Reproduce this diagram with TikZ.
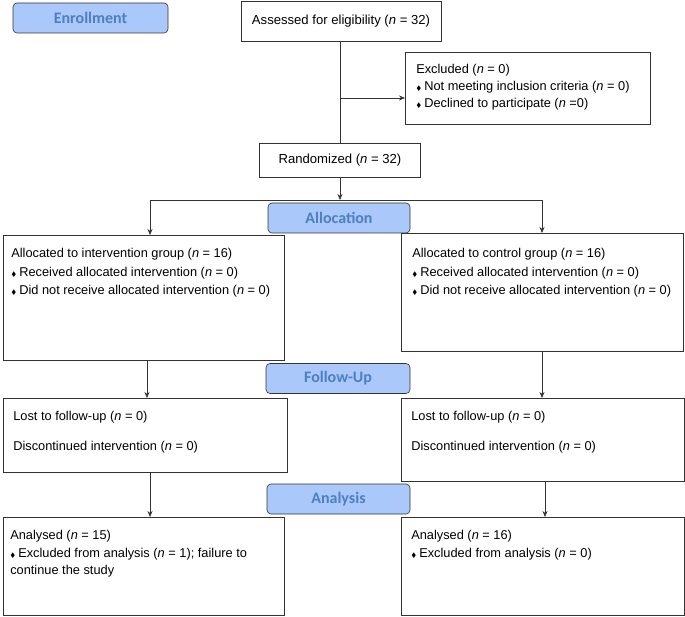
\documentclass[tikz,border=0pt]{standalone}
\usepackage{amssymb}
\usepackage{fontspec}
\setmainfont{Liberation Sans}
\newfontfamily\stagefont{Carlito}
\usepackage{tikz}
\usetikzlibrary{arrows.meta, positioning}
\definecolor{stagefill}{RGB}{170,200,250}
\definecolor{stagetext}{RGB}{79,127,192}
\tikzstyle{stage}=[rectangle, rounded corners=4pt, draw=black!80, fill=stagefill, semithick, text=stagetext, font=\stagefont\bfseries\fontsize{16}{18}\selectfont, minimum height=30pt]
\tikzstyle{box}=[rectangle, draw=black!80, semithick, anchor=north west, inner sep=0pt, font=\fontsize{12.8}{18.5}\selectfont]
\tikzstyle{head}=[rectangle, draw=black!80, semithick, font=\fontsize{13.1}{16}\selectfont]
\tikzstyle{post}=[->, >={Stealth[length=6pt, width=5pt]}, semithick, draw=black!80]
\newcommand{\flowtext}[4]{\begin{minipage}[t][#2pt][t]{#1pt}\vspace{#3pt}#4\end{minipage}}
\newcommand{\itm}{{\fontsize{6.5}{7}\selectfont$\blacklozenge$}\hspace{3pt}}
\newcommand{\nn}{\textit{n}}

\begin{document}
\begin{tikzpicture}[x=1pt, y=-1pt]
  \useasboundingbox (0,0) rectangle (685,617);

  % enrollment
  \node [stage, minimum width=155pt] (enrol) at (90.5,18) {Enrollment};
  \node [head, minimum width=200pt, minimum height=40pt] (assess) at (341,21) {Assessed for eligibility (\nn{} = 32)};
  \node [box, font=\fontsize{12.8}{17}\selectfont] (excl) at (405,52) {\flowtext{245}{72}{12}{\hspace*{11pt}Excluded (\nn{} = 0)\\
    \hspace*{11pt}\itm Not meeting inclusion criteria (\nn{} = 0)\\
    \hspace*{11pt}\itm Declined to participate (\nn{} =0)}};
  \node [head, minimum width=161pt, minimum height=34pt] (rand) at (340,160) {Randomized (\nn{} = 32)};

  \coordinate (trunk) at (340,41);
  \draw [semithick, draw=black!80] (trunk) -- (rand.north -| trunk);
  \draw [post] (340,98) -- (excl.west |- 340,98);

  % allocation
  \node [stage, minimum width=142pt] (alloc) at (339,218) {Allocation};
  \coordinate (split) at (340,200);
  \coordinate (jl) at (150,200);
  \coordinate (jr) at (542,200);
  \node [box] (allocI) at (3,235) {\flowtext{281}{125}{13}{\hspace*{8pt}Allocated to intervention group (\nn{} = 16)\\
    \hspace*{8pt}\itm Received allocated intervention (\nn{} = 0)\\
    \hspace*{8pt}\itm Did not receive allocated intervention (\nn{} = 0)}};
  \node [box] (allocC) at (401,233) {\flowtext{282}{118}{15}{\hspace*{11pt}Allocated to control group (\nn{} = 16)\\
    \hspace*{11pt}\itm Received allocated intervention (\nn{} = 0)\\
    \hspace*{11pt}\itm Did not receive allocated intervention (\nn{} = 0)}};
  \draw [post] (rand) -- (split);
  \draw [semithick, draw=black!80] (jl) -- (jr);
  \draw [post] (jl) -- (jl |- allocI.north);
  \draw [post] (jr) -- (jr |- allocC.north);

  % follow-up
  \node [stage, minimum width=144pt] (follow) at (338,378.5) {Follow-Up};
  \node [box] (followI) at (3,398) {\flowtext{284}{74}{13}{\hspace*{10pt}Lost to follow-up (\nn{} = 0)\\[11pt]
    \hspace*{10pt}Discontinued intervention (\nn{} = 0)}};
  \node [box] (followC) at (401,398) {\flowtext{283}{83}{13}{\hspace*{10pt}Lost to follow-up (\nn{} = 0)\\[11pt]
    \hspace*{10pt}Discontinued intervention (\nn{} = 0)}};
  \draw [post] (147,360) -- (followI.north -| 147,0);
  \draw [post] (allocC.south -| 542,0) -- (followC.north -| 542,0);

  % analysis
  \node [stage, minimum width=143pt] (analysis) at (338.5,499) {Analysis};
  \node [box, font=\fontsize{12.8}{17.5}\selectfont] (analyI) at (3,517) {\flowtext{281}{98}{13}{\hspace*{7pt}Analysed (\nn{} = 15)\\
    \hspace*{7pt}\itm Excluded from analysis (\nn{} = 1); failure to\\
    \hspace*{7pt}continue the study}};
  \node [box, font=\fontsize{12.8}{17.5}\selectfont] (analyC) at (401,517) {\flowtext{283}{98}{13}{\hspace*{10pt}Analysed (\nn{} = 16)\\
    \hspace*{10pt}\itm Excluded from analysis (\nn{} = 0)}};
  \draw [post] (followI.south -| 150,0) -- (analyI.north -| 150,0);
  \draw [post] (followC.south -| 545,0) -- (analyC.north -| 545,0);
\end{tikzpicture}
\end{document}
